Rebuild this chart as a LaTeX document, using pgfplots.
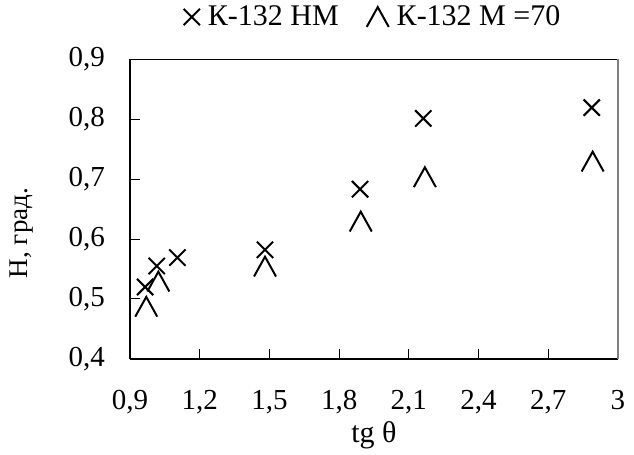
\documentclass[border=0pt]{standalone}
\usepackage{fontspec}
\setmainfont{Liberation Serif}
\usepackage{pgfplots}
\pgfplotsset{compat=1.18}
\pgfdeclareplotmark{caret}{%
 \pgfpathmoveto{\pgfqpoint{-\pgfplotmarksize}{-0.9\pgfplotmarksize}}%
 \pgfpathlineto{\pgfqpoint{0pt}{0.9\pgfplotmarksize}}%
 \pgfpathlineto{\pgfqpoint{\pgfplotmarksize}{-0.9\pgfplotmarksize}}%
 \pgfusepathqstroke}
\begin{document}
\begin{tikzpicture}
\path[use as bounding box] (-65pt,-48pt) rectangle (252pt,179.5pt);
\begin{axis}[
  scale only axis, width=244pt, height=150pt,
  xmin=0.9, xmax=3, ymin=0.4, ymax=0.9,
  xtick={0.9,1.2,1.5,1.8,2.1,2.4,2.7,3},
  ytick={0.4,0.5,0.6,0.7,0.8,0.9},
  axis lines*=left,
  axis line style={black, line width=0.6pt},
  tick align=inside,
  major tick length=5pt,
  tick style={black, line width=0.5pt},
  /pgf/number format/.cd, use comma, fixed, precision=1, assume math mode=true,
  /pgfplots/.cd,
  tick label style={font=\fontsize{14.5}{16}\selectfont},
  yticklabel style={xshift=-9pt},
  xticklabel style={yshift=-12pt},
  xlabel={tg θ},
  ylabel={Н, град.},
  xlabel style={font=\fontsize{15}{17}\selectfont, at={(axis description cs:0.5,-0.253)}, anchor=center},
  ylabel style={font=\fontsize{13.5}{15}\selectfont, at={(axis description cs:-0.2213,0.42)}, anchor=center, rotate=0},
  legend columns=2,
  legend style={at={(axis description cs:0.5,1.14)}, anchor=center, draw=none,
    font=\fontsize{15}{17}\selectfont,
    /tikz/every odd column/.append style={column sep=2pt},
    /tikz/every even column/.append style={column sep=12pt}},
  clip=false,
]
\addplot[only marks, mark=x, mark size=5.75pt, line width=1pt, black,
  mark options={line cap=butt}] coordinates {
  (0.965,0.520) (1.015,0.555) (1.104,0.569) (1.481,0.582)
  (1.890,0.683) (2.162,0.801) (2.887,0.819)};
\addlegendentry{К-132 НМ}
\addplot[only marks, mark=caret, mark size=5.5pt, line width=1pt, black] coordinates {
  (0.970,0.487) (1.022,0.529) (1.481,0.554) (1.893,0.629)
  (2.169,0.703) (2.891,0.729)};
\addlegendentry{К-132 М =70}
\draw[black, line width=0.4pt] (rel axis cs:0,1) -- (rel axis cs:1,1);
\draw[gray, line width=0.7pt] (rel axis cs:1,1) -- (rel axis cs:1,0);
\end{axis}
\end{tikzpicture}
\end{document}
